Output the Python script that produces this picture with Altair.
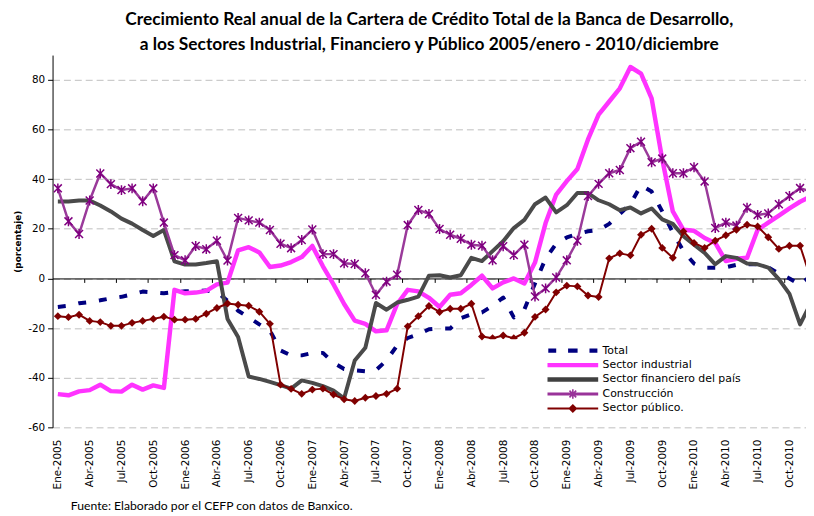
import math
import altair as alt
import pandas as pd

# ---------------- data ----------------
meses = ["Ene", "Feb", "Mar", "Abr", "May", "Jun", "Jul", "Ago", "Sep", "Oct", "Nov", "Dic"]
anios = [2005, 2006, 2007, 2008, 2009, 2010]
etiquetas = [f"{m}-{a}" for a in anios for m in meses]

nombres = ["Total", "Sector industrial", "Sector financiero del país", "Construcción", "Sector público."]

total = [-11.5, -11.0, -10.0, -9.5, -8.8, -8.0, -7.4, -6.4, -5.3, -5.6, -6.0, -5.5,
         -5.2, -5.0, -4.9, -5.5, -9.0, -13.0, -15.7, -18.5, -21.0, -29.0, -31.0, -31.0,
         -30.0, -30.0, -34.0, -36.5, -37.0, -37.4, -37.0, -33.0, -27.0, -24.0, -22.5, -20.5,
         -20.2, -20.2, -16.0, -14.5, -13.7, -11.0, -7.7, -15.7, -12.5, -2.0, 8.0, 14.0,
         16.5, 18.0, 19.0, 19.5, 22.0, 26.0, 30.0, 37.5, 35.0, 27.0, 18.5, 11.0,
         6.0, 4.3, 4.3, 4.5, 5.5, 5.7, 5.7, 4.5, 2.0, 0.0, -2.5, 1.0]

industrial = [-46.6, -47.1, -45.5, -45.0, -42.8, -45.4, -45.6, -42.8, -44.8, -43.1, -44.1, -4.6,
              -6.0, -5.7, -5.0, -2.4, -1.7, 11.3, 12.6, 10.5, 4.6, 5.2, 6.6, 8.6,
              13.1, 4.9, -2.4, -10.3, -17.0, -18.3, -21.3, -20.9, -10.3, -4.6, -5.2, -7.8,
              -11.5, -6.6, -6.0, -2.6, 1.1, -4.0, -1.6, 0.0, -2.0, 6.4, 22.3, 33.8,
              39.2, 44.1, 56.0, 66.0, 71.3, 76.6, 85.2, 82.5, 72.6, 48.0, 27.0, 19.6,
              19.2, 16.3, 14.3, 7.0, 7.9, 8.3, 19.6, 22.5, 25.3, 28.2, 30.9, 33.0]

financiero = [31.0, 31.0, 31.4, 31.4, 29.4, 27.0, 24.1, 22.1, 19.5, 17.1, 19.5, 6.9,
              5.6, 5.6, 6.2, 6.9, -16.3, -23.6, -39.5, -40.5, -41.7, -43.0, -44.4, -41.1,
              -42.1, -43.4, -45.2, -48.3, -33.1, -27.9, -9.9, -12.6, -9.7, -8.6, -7.3, 1.1,
              1.3, 0.4, 1.3, 8.3, 7.0, 11.0, 15.0, 20.3, 23.6, 29.9, 32.6, 26.6,
              29.5, 34.4, 34.4, 31.5, 29.9, 27.5, 28.6, 26.2, 28.2, 23.8, 22.0, 17.0,
              13.6, 10.3, 5.7, 9.0, 8.3, 6.0, 5.7, 4.4, -0.3, -6.2, -18.5, -10.0]

construccion = [36.3, 23.0, 17.9, 31.4, 42.3, 38.0, 35.6, 36.3, 31.1, 36.3, 22.5, 9.4,
                7.3, 13.1, 11.8, 15.2, 7.2, 24.4, 23.4, 22.5, 19.5, 14.0, 12.2, 15.5,
                19.7, 9.8, 9.8, 6.1, 5.8, 2.1, -6.6, -1.3, 1.5, 21.5, 27.6, 26.0,
                19.9, 17.6, 16.0, 13.6, 13.2, 7.3, 13.0, 9.4, 13.6, -7.3, -4.0, 0.4,
                7.3, 15.2, 33.2, 38.1, 42.4, 43.7, 52.5, 55.1, 46.8, 48.3, 42.4, 42.4,
                44.8, 39.1, 20.3, 22.5, 21.3, 28.5, 25.6, 26.2, 29.9, 33.2, 36.4, 35.0]

publico = [-15.2, -15.6, -14.6, -17.1, -17.6, -19.1, -19.1, -17.9, -17.1, -16.3, -15.4, -16.6,
           -16.6, -16.3, -14.2, -11.9, -10.1, -10.6, -11.0, -13.4, -18.3, -42.8, -44.5, -46.5,
           -44.8, -44.4, -46.8, -48.7, -49.4, -48.1, -47.4, -46.5, -44.4, -19.3, -15.2, -11.1,
           -13.5, -12.2, -12.2, -10.2, -23.4, -24.1, -23.0, -24.1, -21.9, -15.5, -12.5, -5.6,
           -2.9, -3.2, -6.9, -7.5, 8.1, 10.1, 9.3, 17.6, 20.0, 12.3, 8.3, 18.9,
           14.3, 12.3, 15.2, 17.4, 19.6, 21.6, 20.9, 16.6, 11.9, 13.2, 13.2, 0.0]

series = [total, industrial, financiero, construccion, publico]
for s in series:
    assert len(s) == len(etiquetas)


def frame(valores):
    return pd.DataFrame({"i": list(range(len(valores))), "mes": etiquetas, "v": valores})


# ---------------- styling ----------------
titulo = ["Crecimiento Real anual de la Cartera de Crédito Total de la Banca de Desarrollo,",
          "a los Sectores Industrial, Financiero y Público 2005/enero - 2010/diciembre"]
fuente = "Fuente: Elaborado por el CEFP con datos de Banxico."

W, H = 761, 376
xscale = alt.Scale(domain=[-0.5, 70.56], nice=False, zero=False)
yscale = alt.Scale(domain=[-60, 90], nice=False, zero=False)

label_js = "[" + ",".join(f"'{e}'" for e in etiquetas) + "][datum.value]"

axis_labels = alt.Axis(
    orient="bottom", values=list(range(0, 72, 3)), labelExpr=label_js,
    labelAngle=270, labelFont="DejaVu Sans", labelFontSize=10.5, labelColor="black",
    labelPadding=12, labelFlush=False, labelOverlap=False,
    ticks=False, tickSize=0, domain=False, grid=False,
    title=fuente, titleFont="Lato", titleFontSize=12.3, titleFontWeight="normal",
    titleColor="black", titleAnchor="start", titleAlign="left", titleBaseline="alphabetic",
    titleX=18, titleY=83,
)
axis_ticks = alt.Axis(
    orient="bottom", values=[k * 3 - 0.5 for k in range(1, 24)], labels=False,
    ticks=True, tickSize=4, tickColor="black", tickWidth=1,
    domain=True, domainColor="black", domainWidth=1, grid=False, title=None,
    offset=-150.4,
)
axis_y = alt.Axis(
    orient="left", values=list(range(-60, 81, 20)), labelExpr="datum.value + ''",
    grid=True, gridDash=[7, 4], gridColor="#BFBFBF", gridWidth=1,
    domain=True, domainColor="black", domainWidth=1,
    ticks=True, tickSize=5, tickColor="black",
    labelFont="DejaVu Sans", labelFontSize=10.5, labelColor="black", labelPadding=3,
    title="(porcentaje)", titleFont="DejaVu Sans", titleFontSize=9, titleFontWeight="bold",
    titleColor="black", titleAngle=270, titleX=-35, titleY=188,
    titleAlign="center", titleBaseline="middle",
)


def linea(valores, color, width, xaxis=None, yaxis=None, dash=None):
    kw = dict(color=color, strokeWidth=width, clip=True, strokeJoin="round")
    if dash:
        kw["strokeDash"] = dash
        kw["strokeCap"] = "butt"
    return alt.Chart(frame(valores)).mark_line(**kw).encode(
        x=alt.X("i:Q", scale=xscale, axis=xaxis),
        y=alt.Y("v:Q", scale=yscale, axis=yaxis),
    )


def puntos(valores, shape, color, size, filled, sw=1.0):
    return alt.Chart(frame(valores)).mark_point(
        shape=shape, color=color, size=size, filled=filled, opacity=1,
        strokeWidth=sw, clip=True,
    ).encode(
        x=alt.X("i:Q", scale=xscale, axis=None),
        y=alt.Y("v:Q", scale=yscale, axis=None),
    )


asterisco = "M-1,-1L1,1M-1,1L1,-1M0,-1.25L0,1.25"

# ---------------- legend symbols (paths, 1 unit = 4 px) ----------------
def rect(x0, x1, h):
    return f"M{x0},{-h}L{x1},{-h}L{x1},{h}L{x0},{h}Z"


def brazo(ang, L=1.2, w=0.2):
    dx, dy = math.cos(math.radians(ang)), math.sin(math.radians(ang))
    nx, ny = -dy, dx
    p = [(L * dx + w * nx, L * dy + w * ny), (-L * dx + w * nx, -L * dy + w * ny),
         (-L * dx - w * nx, -L * dy - w * ny), (L * dx - w * nx, L * dy - w * ny)]
    return "M" + "L".join(f"{a:.3f},{b:.3f}" for a, b in p) + "Z"


ext = "M-19.6,0L-19.59,0ZM64,0L64.01,0Z"
sym_total = rect(-6.2, -4.2, 0.55) + rect(-1.2, 1.2, 0.55) + rect(4.2, 6.2, 0.55) + ext
sym_ind = rect(-6.4, 6.4, 0.55) + ext
sym_fin = rect(-6.4, 6.4, 0.55) + ext
sym_con = rect(-6.4, 6.4, 0.38) + brazo(45) + brazo(135) + brazo(90) + ext
sym_pub = rect(-6.4, 6.4, 0.26) + "M1.15,0L0,1.15L-1.15,0L0,-1.15Z" + ext

colores_leyenda = ["#000080", "#FF33FF", "#404040", "#993399", "#800000"]
leyenda = alt.Legend(
    orient="none", legendX=437, legendY=287, title=None, fillColor="white",
    padding=6, rowPadding=2.6, labelFont="DejaVu Sans", labelFontSize=11,
    labelColor="black", labelLimit=400, symbolSize=64, symbolOffset=77,
    labelOffset=24.5, symbolStrokeWidth=0,
)

legend_layer = alt.Chart(pd.DataFrame({"serie": nombres})).mark_point(
    filled=True, size=64, opacity=1, clip=True
).encode(
    x=alt.value(-60), y=alt.value(-60),
    color=alt.Color("serie:N", scale=alt.Scale(domain=nombres, range=colores_leyenda), legend=leyenda),
    shape=alt.Shape("serie:N", scale=alt.Scale(domain=nombres, range=[sym_total, sym_ind, sym_fin, sym_con, sym_pub]), legend=leyenda),
)

capas = [
    linea(total, "#000080", 4, xaxis=axis_labels, yaxis=axis_y, dash=[8, 13]),
    linea(industrial, "#FF33FF", 4.5, xaxis=axis_ticks),
    linea(financiero, "#4A4A4A", 4),
    linea(construccion, "#9A3A9A", 2.5),
    puntos(construccion, asterisco, "#800080", 64, False, 1.5),
    linea(publico, "#800000", 2),
    puntos(publico, "diamond", "#800000", 64, True),
    legend_layer,
]

chart = alt.layer(*capas).resolve_axis(x="independent", y="independent").resolve_scale(
    color="independent", shape="independent"
).properties(
    width=W, height=H,
    autosize=alt.AutoSizeParams(type="none"),
    padding={"left": 45, "top": 45, "right": 0, "bottom": 88},
    title=alt.TitleParams(text=titulo, font="Lato", fontSize=17.5, fontWeight="bold",
                          color="black", anchor="middle", lineHeight=24.5, offset=2),
).configure_view(stroke=None)

chart.save("out.html", embed_options={"renderer": "svg", "actions": False})
